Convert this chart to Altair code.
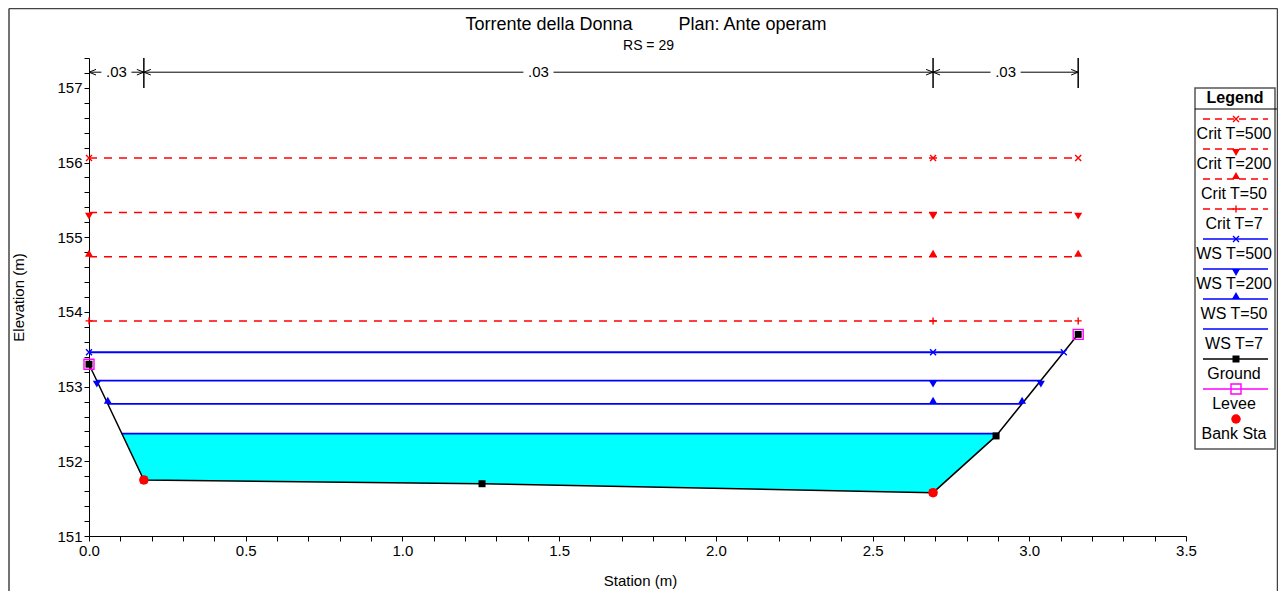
import altair as alt
import pandas as pd

# ---------------- data ----------------
ground_sta = [0.0, 0.175, 1.254, 2.693, 2.894, 3.156]
ground_elev = [153.30, 151.75, 151.70, 151.58, 152.34, 153.70]
levee_sta = [0.0, 3.156]
levee_elev = [153.30, 153.70]
bank_sta = [0.175, 2.693]
bank_elev = [151.75, 151.58]

profile_names = ["Crit T=500", "Crit T=200", "Crit T=50", "Crit T=7",
                 "WS T=500", "WS T=200", "WS T=50", "WS T=7"]
profile_elev = [156.06, 155.33, 154.74, 153.88, 153.46, 153.08, 152.77, 152.37]
profile_left = [0.0, 0.0, 0.0, 0.0, 0.0, 0.025, 0.060, 0.105]
profile_right = [3.156, 3.156, 3.156, 3.156, 3.110, 3.037, 2.977, 2.900]

# cyan wetted area (WS T=7) : stations and ground elevations under the water
fill_sta = [0.105, 0.175, 1.254, 2.693, 2.900]
fill_ground = [152.37, 151.75, 151.70, 151.58, 152.37]

# Manning's n zones
n_breaks = [0.0, 0.175, 2.693, 3.156]
n_labels = [".03", ".03", ".03"]

x_ticks = [round(i * 0.1, 1) for i in range(36)]
y_ticks = [round(151 + 0.2 * i, 1) for i in range(33)]

legend_names = profile_names + ["Ground", "Levee", "Bank Sta"]

title_left = "Torrente della Donna"
title_right = "Plan: Ante operam"
subtitle = "RS = 29"

# ---------------- styling ----------------
W, H = 1097, 478
FONT = "Liberation Sans"
RED, BLUE, MAG = "#FF0000", "#0000FF", "#FF00FF"
XMARK = "M-1,-1L1,1M-1,1L1,-1"
PLUS = "M-1,0L1,0M0,-1L0,1"
ARROW_L = "M0,0L2,-0.8M0,0L2,0.8"
ARROW_R = "M0,0L-2,-0.8M0,0L-2,0.8"

styles = {
    "Crit T=500": dict(color=RED, dash=True, shape=XMARK, filled=False, size=36, off=0),
    "Crit T=200": dict(color=RED, dash=True, shape="triangle-down", filled=True, size=64, off=3.5),
    "Crit T=50": dict(color=RED, dash=True, shape="triangle-up", filled=True, size=64, off=-3.5),
    "Crit T=7": dict(color=RED, dash=True, shape=PLUS, filled=False, size=49, off=0),
    "WS T=500": dict(color=BLUE, dash=False, shape=XMARK, filled=False, size=36, off=0),
    "WS T=200": dict(color=BLUE, dash=False, shape="triangle-down", filled=True, size=64, off=3.5),
    "WS T=50": dict(color=BLUE, dash=False, shape="triangle-up", filled=True, size=64, off=-3.5),
    "WS T=7": dict(color=BLUE, dash=False, shape=None, filled=False, size=0, off=0),
    "Ground": dict(color="black", dash=False, shape="square", filled=True, size=49, off=0),
    "Levee": dict(color=MAG, dash=False, shape="square", filled=False, size=100, off=0),
    "Bank Sta": dict(color=RED, dash=None, shape="circle", filled=True, size=90, off=0),
}

xsc = alt.Scale(domain=[0, 3.5], nice=False, zero=False)
ysc = alt.Scale(domain=[151, 157.4], nice=False, zero=False)

x_axis = alt.Axis(values=x_ticks,
                  labelExpr="round(datum.value*10) % 5 == 0 ? format(datum.value, '.1f') : ''",
                  grid=False, tickSize=5, tickColor="black", domainColor="black",
                  labelFont=FONT, labelFontSize=15, labelColor="black", labelPadding=2,
                  labelFlush=False, labelOverlap=False,
                  title="Station (m)", titleFont=FONT, titleFontSize=15,
                  titleFontWeight="normal", titleColor="black",
                  titleX=551, titleY=44, titleBaseline="middle", titleAlign="center")
y_axis = alt.Axis(values=y_ticks,
                  labelExpr="round(datum.value*10) % 10 == 0 ? format(datum.value, 'd') : ''",
                  grid=False, tickSize=5, tickColor="black", domainColor="black",
                  labelFont=FONT, labelFontSize=15, labelColor="black", labelPadding=2,
                  labelFlush=False, labelOverlap=False,
                  title="Elevation (m)", titleFont=FONT, titleFontSize=15,
                  titleFontWeight="normal", titleColor="black",
                  titleX=-71, titleY=239, titleAngle=270,
                  titleBaseline="middle", titleAlign="center")


def X(f="x"):
    return alt.X(f"{f}:Q", scale=xsc, axis=x_axis)


def Y(f="y"):
    return alt.Y(f"{f}:Q", scale=ysc, axis=y_axis)


def point_kw(st):
    kw = dict(shape=st["shape"], filled=st["filled"], color=st["color"],
              size=st["size"], strokeWidth=1.4, opacity=1)
    if st["off"]:
        kw["yOffset"] = st["off"]
    return kw


layers = []

# water fill
fill_df = pd.DataFrame({"x": fill_sta, "y": fill_ground,
                        "y2": [profile_elev[7]] * len(fill_sta)})
layers.append(alt.Chart(fill_df).mark_area(color="#00FFFF", opacity=1).encode(
    x=X(), y=Y(), y2=alt.Y2("y2:Q")))

# profile lines
prof_df = pd.DataFrame({"name": profile_names, "x": profile_left,
                        "x2": profile_right, "y": profile_elev})
for name in profile_names:
    st = styles[name]
    kw = dict(color=st["color"], strokeWidth=1.5 if st["dash"] else 1.8)
    if st["dash"]:
        kw["strokeDash"] = [8, 7]
    layers.append(alt.Chart(prof_df).transform_filter(
        alt.datum.name == name).mark_rule(**kw).encode(
        x=X(), x2=alt.X2("x2:Q"), y=Y()))

# ground line
ground_df = pd.DataFrame({"x": ground_sta, "y": ground_elev})
layers.append(alt.Chart(ground_df).mark_line(color="black", strokeWidth=1.5).encode(
    x=X(), y=Y()))

# profile markers: at left end, right bank station and right end
mk_rows = []
for name, e, l, r in zip(profile_names, profile_elev, profile_left, profile_right):
    for xx in (l, bank_sta[1], r):
        mk_rows.append({"name": name, "x": xx, "y": e})
mk_df = pd.DataFrame(mk_rows)
for name in profile_names:
    st = styles[name]
    if not st["shape"]:
        continue
    layers.append(alt.Chart(mk_df).transform_filter(
        alt.datum.name == name).mark_point(**point_kw(st)).encode(x=X(), y=Y()))

# levee, ground and bank markers
levee_df = pd.DataFrame({"x": levee_sta, "y": levee_elev})
layers.append(alt.Chart(levee_df).mark_point(**point_kw(styles["Levee"])).encode(
    x=X(), y=Y()))
layers.append(alt.Chart(ground_df).mark_point(**point_kw(styles["Ground"])).encode(
    x=X(), y=Y()))
bank_df = pd.DataFrame({"x": bank_sta, "y": bank_elev})
layers.append(alt.Chart(bank_df).mark_point(**point_kw(styles["Bank Sta"])).encode(
    x=X(), y=Y()))

# Manning's n annotation
n_y = 157.21
gap = 0.048
seg_rows, lab_rows, al_rows, ar_rows = [], [], [], []
for i, lab in enumerate(n_labels):
    a, b = n_breaks[i], n_breaks[i + 1]
    c = (a + b) / 2
    seg_rows.append({"x": a, "x2": c - gap, "y": n_y})
    seg_rows.append({"x": c + gap, "x2": b, "y": n_y})
    lab_rows.append({"x": c, "y": n_y, "t": lab})
    al_rows.append({"x": a, "y": n_y})
    ar_rows.append({"x": b, "y": n_y})
layers.append(alt.Chart(pd.DataFrame(seg_rows)).mark_rule(color="black", strokeWidth=1).encode(
    x=X(), x2=alt.X2("x2:Q"), y=Y()))
layers.append(alt.Chart(pd.DataFrame(lab_rows)).mark_text(
    font=FONT, fontSize=15, color="black", baseline="middle", align="center").encode(
    x=X(), y=Y(), text="t:N"))
layers.append(alt.Chart(pd.DataFrame(al_rows)).mark_point(
    shape=ARROW_L, filled=False, color="black", size=49, strokeWidth=1, opacity=1).encode(
    x=X(), y=Y()))
layers.append(alt.Chart(pd.DataFrame(ar_rows)).mark_point(
    shape=ARROW_R, filled=False, color="black", size=49, strokeWidth=1, opacity=1).encode(
    x=X(), y=Y()))
tick_df = pd.DataFrame({"x": n_breaks[1:], "y": [157.0] * 3, "y2": [157.4] * 3})
layers.append(alt.Chart(tick_df).mark_rule(color="black", strokeWidth=1.5).encode(
    x=X(), y=Y(), y2=alt.Y2("y2:Q")))

# ---------------- legend ----------------
LX0, LX1 = 1106, 1186
LCX = (LX0 + LX1) / 2
one = pd.DataFrame({"a": [0]})
layers.append(alt.Chart(one).mark_rect(fill="white", stroke="#555555", strokeWidth=1.5).encode(
    x=alt.value(LX0), x2=alt.value(LX1), y=alt.value(30), y2=alt.value(391)))
layers.append(alt.Chart(one).mark_rule(color="black", strokeWidth=1).encode(
    x=alt.value(LX0), x2=alt.value(LX1 + 2), y=alt.value(51)))
layers.append(alt.Chart(pd.DataFrame({"t": ["Legend"]})).mark_text(
    font=FONT, fontSize=16, fontWeight="bold", color="black", baseline="middle",
    align="center").encode(x=alt.value(LCX), y=alt.value(40), text="t:N"))
for i, name in enumerate(legend_names):
    st = styles[name]
    ly = 61 + 30 * i
    ty = 76 + 30 * i
    ldf = pd.DataFrame({"t": [name]})
    if st["dash"] is not None:
        kw = dict(color=st["color"], strokeWidth=1.5)
        if st["dash"]:
            kw["strokeDash"] = [7, 5]
        layers.append(alt.Chart(ldf).mark_rule(**kw).encode(
            x=alt.value(LX0 + 8), x2=alt.value(LX1 - 7), y=alt.value(ly)))
    if st["shape"]:
        layers.append(alt.Chart(ldf).mark_point(**point_kw(st)).encode(
            x=alt.value(LCX + 1), y=alt.value(ly)))
    layers.append(alt.Chart(ldf).mark_text(
        font=FONT, fontSize=16, color="black", baseline="middle", align="center").encode(
        x=alt.value(LCX - 1), y=alt.value(ty), text="t:N"))

# ---------------- titles ----------------
for txt, xx, yy, fs in [(title_left, 460, -33, 18), (title_right, 663.5, -33, 18),
                        (subtitle, 559.5, -12, 14)]:
    layers.append(alt.Chart(pd.DataFrame({"t": [txt]})).mark_text(
        font=FONT, fontSize=fs, color="black", baseline="middle", align="center").encode(
        x=alt.value(xx), y=alt.value(yy), text="t:N"))

# ---------------- outer frame ----------------
FR = 1188.5
layers.append(alt.Chart(one).mark_rule(color="#444444", strokeWidth=1.5).encode(
    x=alt.value(-80), y=alt.value(-49.5), y2=alt.value(540)))
layers.append(alt.Chart(one).mark_rule(color="#444444", strokeWidth=1.5).encode(
    x=alt.value(-80), x2=alt.value(FR), y=alt.value(-49.5)))
layers.append(alt.Chart(one).mark_rule(color="#444444", strokeWidth=1.5).encode(
    x=alt.value(FR), y=alt.value(-49.5), y2=alt.value(540)))

chart = alt.layer(*layers).properties(
    width=W, height=H,
    autosize=alt.AutoSizeParams(type="none"),
    padding={"left": 81, "top": 50, "right": 92, "bottom": 55},
    background="white",
).configure_view(strokeWidth=0)

chart.save("out.html", embed_options={"renderer": "svg", "actions": False})
